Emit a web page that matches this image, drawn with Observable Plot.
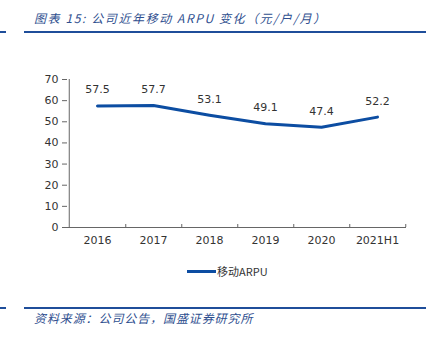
<!DOCTYPE html>
<html>
<head>
<meta charset="utf-8">
<script src="https://cdn.jsdelivr.net/npm/d3@7"></script>
<script src="https://cdn.jsdelivr.net/npm/@observablehq/plot@0.6"></script>
<style>
  html, body { margin: 0; padding: 0; background: #fff; }
  #wrap { position: relative; width: 434px; height: 337px; overflow: hidden; font-family: "Noto Sans CJK SC", "DejaVu Sans", sans-serif; }
  #title { position: absolute; left: 34px; top: 9px; font-size: 12px; letter-spacing: 1.6px; font-style: italic; color: #2f4f8f; white-space: nowrap; }
  .rule { position: absolute; height: 2px; background: #1f4e9a; }
  #source { position: absolute; left: 34px; top: 309px; font-size: 12px; letter-spacing: 0.9px; font-style: italic; color: #2f4f8f; white-space: nowrap; }
  #legend { position: absolute; left: 187px; top: 263px; font-size: 11px; color: #333; display: flex; align-items: center; font-family: "Noto Sans CJK SC", sans-serif; }
  #legend .sw { width: 29px; height: 3px; background: #0c4da2; margin-right: 1px; }
  #chart { position: absolute; left: 0; top: 0; }
</style>
</head>
<body>
<div id="wrap">
  <div id="title">图表 15:  公司近年移动 ARPU 变化（元/户/月）</div>
  <div class="rule" style="left:0;top:31px;width:6px"></div>
  <div class="rule" style="left:24px;top:31px;width:402px"></div>
  <div id="chart"></div>
  <div id="legend"><span class="sw"></span><span>移动ARPU</span></div>
  <div class="rule" style="left:0;top:307px;width:6px"></div>
  <div class="rule" style="left:24px;top:307px;width:402px"></div>
  <div id="source">资料来源：公司公告，国盛证券研究所</div>
</div>
<script>
const years = ["2016", "2017", "2018", "2019", "2020", "2021H1"];
const arpu = [57.5, 57.7, 53.1, 49.1, 47.4, 52.2];
const yTicks = [0, 10, 20, 30, 40, 50, 60, 70];
const seriesName = "移动ARPU";

const data = years.map((y, i) => ({year: y, value: arpu[i]}));

const W = 434, H = 337;
const mL = 67, mR = 28, mT = 79, mB = 110;
const half = (W - mL - mR) / years.length / 2;

const chart = Plot.plot({
  width: W,
  height: H,
  marginLeft: mL,
  marginRight: mR,
  marginTop: mT,
  marginBottom: mB,
  style: {fontFamily: "'DejaVu Sans', sans-serif", fontSize: "11px", color: "#333", background: "transparent"},
  x: {type: "band", domain: years, padding: 0, label: null},
  y: {domain: [0, 70], label: null},
  marks: [
    Plot.axisY({ticks: yTicks, tickSize: 5, tickPadding: 4, stroke: "#666", fill: "#333", fontSize: 11, label: null}),
    Plot.axisX({ticks: years, tickSize: 0, tickPadding: 9, fill: "#333", fontSize: 11, label: null}),
    Plot.axisX({ticks: years, tickSize: -3, text: null, dx: half, stroke: "#666", label: null}),
    Plot.ruleY([0], {stroke: "#666"}),
    Plot.ruleX([years[0]], {y1: 0, y2: 70, dx: -half, stroke: "#666"}),
    Plot.line(data, {x: "year", y: "value", stroke: "#0c4da2", strokeWidth: 3}),
    Plot.text(data, {x: "year", y: "value", text: d => d.value.toFixed(1), dy: -16, fill: "#333", fontSize: 11})
  ]
});
document.getElementById("chart").appendChild(chart);
</script>
</body>
</html>
